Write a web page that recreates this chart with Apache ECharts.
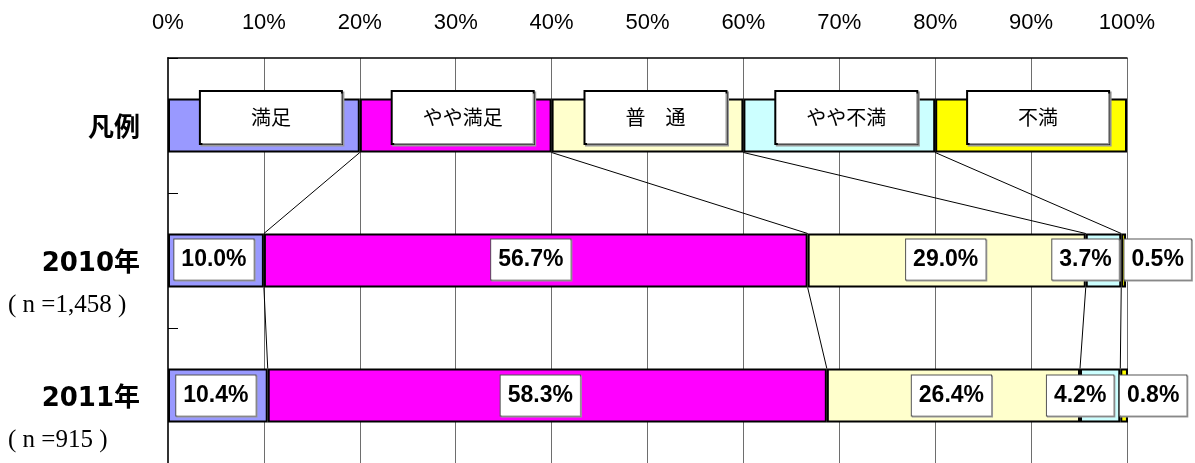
<!DOCTYPE html>
<html>
<head>
<meta charset="utf-8">
<script src="https://cdn.jsdelivr.net/npm/echarts@6/dist/echarts.min.js"></script>
<style>
html,body{margin:0;padding:0;background:#fff;}
#chart{width:1195px;height:463px;}
</style>
</head>
<body>
<div id="chart"></div>
<script>
// ---- data ----
const categories = ['凡例', '2010年', '2011年'];
const sampleSizes = ['', '1,458', '915'];
const seriesNames = ['満足', 'やや満足', '普　通', 'やや不満', '不満'];
const legendShares = [20, 20, 20, 20, 20];
const values2010 = [10.0, 56.7, 29.0, 3.7, 0.5];
const values2011 = [10.4, 58.3, 26.4, 4.2, 0.8];
const xTicks = { min: 0, max: 100, step: 10 };

// ---- styles ----
const colors = ['#9999FF', '#FF00FF', '#FFFFCC', '#CCFFFF', '#FFFF00'];
const rows = [legendShares, values2010, values2011];
// label offsets (pixel nudges) per row / segment, to avoid overlaps like the original
const labelNudges = [
  [[7, -8], [7, -8], [8, -8], [7, -8], [7, -8]],
  [[-2, -1], [-5, -1], [-1, -1], [-18, -1], [34, -1]],
  [[-2, 0], [-7, 0], [-2, 0], [-20, 0], [29, 0]]
];

const legendLabel = (s) => ({
  show: true,
  position: 'inside',
  offset: labelNudges[0][s],
  formatter: '{a}',
  color: '#000',
  fontSize: 20,
  fontFamily: "'Noto Sans CJK JP', sans-serif",
  backgroundColor: '#fff',
  borderColor: '#000',
  borderWidth: 2,
  width: 140,
  height: 51,
  lineHeight: 51,
  align: 'center',
  padding: 0,
  shadowColor: '#999',
  shadowOffsetX: 1.5,
  shadowOffsetY: 1.5,
  shadowBlur: 0
});

const valueLabel = (r, s) => ({
  show: true,
  position: 'inside',
  offset: labelNudges[r][s],
  formatter: (p) => p.value.toFixed(1) + '%',
  color: '#000',
  fontSize: 23,
  fontWeight: 'bold',
  fontFamily: "'Liberation Sans', Arial, sans-serif",
  backgroundColor: '#fff',
  borderColor: '#555',
  borderWidth: 1,
  lineHeight: 40,
  padding: [0, 7],
  shadowColor: '#999',
  shadowOffsetX: 1,
  shadowOffsetY: 1,
  shadowBlur: 0
});

const barSeries = seriesNames.map((name, s) => ({
  name: name,
  type: 'bar',
  stack: 'total',
  barWidth: '40%',
  itemStyle: { color: colors[s], borderColor: '#000', borderWidth: 2 },
  data: rows.map((row, r) => ({
    value: row[s],
    label: r === 0 ? legendLabel(s) : valueLabel(r, s)
  })),
  z: 3
}));

// series lines connecting segment boundaries between consecutive rows
const cumulative = (row) => { let c = 0; return row.map(v => (c += v)); };
const connectorData = [];
for (let r = 0; r < rows.length - 1; r++) {
  const a = cumulative(rows[r]);
  const b = cumulative(rows[r + 1]);
  for (let k = 0; k < a.length - 1; k++) {
    connectorData.push([a[k], r, b[k], r + 1]);
  }
}

const connectorSeries = {
  type: 'custom',
  renderItem: (params, api) => {
    const p1 = api.coord([api.value(0), api.value(1)]);
    const p2 = api.coord([api.value(2), api.value(3)]);
    const band = api.size([0, 1])[1];
    const half = band * 0.4 / 2;
    return {
      type: 'line',
      shape: { x1: p1[0], y1: p1[1] + half, x2: p2[0], y2: p2[1] - half },
      style: { stroke: '#000', lineWidth: 1 }
    };
  },
  encode: { x: [0, 2], y: [1, 3] },
  data: connectorData,
  silent: true,
  z: 2
};

const chart = echarts.init(document.getElementById('chart'), null, { renderer: 'canvas' });
chart.setOption({
  animation: false,
  backgroundColor: '#fff',
  grid: { left: 168, right: 68, top: 58, bottom: 0, containLabel: false },
  xAxis: {
    type: 'value',
    position: 'top',
    min: xTicks.min,
    max: xTicks.max,
    interval: xTicks.step,
    axisLine: { show: true, lineStyle: { color: '#000', width: 1.5 } },
    axisTick: { show: false },
    axisLabel: {
      formatter: '{value}%',
      color: '#000',
      fontSize: 22,
      fontFamily: "'Liberation Sans', Arial, sans-serif",
      margin: 24
    },
    splitLine: { show: true, lineStyle: { color: '#6e6e6e', width: 1 } }
  },
  yAxis: {
    type: 'category',
    inverse: true,
    data: categories,
    axisLine: { show: true, lineStyle: { color: '#333', width: 2 } },
    axisTick: { show: true, inside: true, length: 10, lineStyle: { color: '#000', width: 1 } },
    axisLabel: {
      margin: 28,
      padding: [49, 0, 0, 0],
      formatter: (v, i) => '{a|' + v + '}\n{b|' + (sampleSizes[i] ? '( n =' + sampleSizes[i] + ' )' : ' ') + '}',
      rich: {
        a: {
          fontSize: 26,
          fontWeight: 'bold',
          color: '#000',
          fontFamily: "'DejaVu Sans', 'Noto Sans CJK JP', sans-serif",
          lineHeight: 41,
          align: 'right'
        },
        b: {
          fontSize: 25,
          color: '#000',
          fontFamily: "'Liberation Serif', serif",
          lineHeight: 41,
          width: 132,
          align: 'left'
        }
      }
    }
  },
  series: [connectorSeries].concat(barSeries)
});
</script>
</body>
</html>
